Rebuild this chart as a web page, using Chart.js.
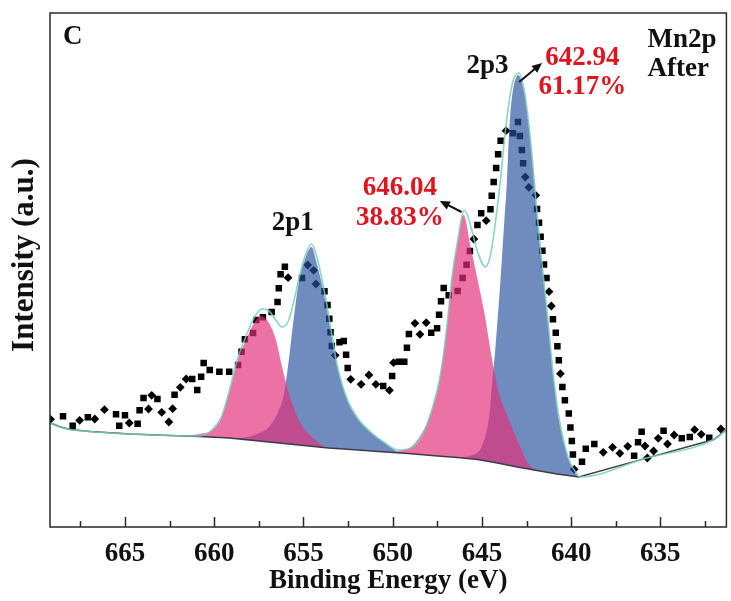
<!DOCTYPE html>
<html>
<head>
<meta charset="utf-8">
<script src="https://cdn.jsdelivr.net/npm/chart.js@4.4.1/dist/chart.umd.min.js"></script>
<style>
  html, body { margin: 0; padding: 0; background: #fff; }
  #wrap { width: 731px; height: 601px; }
</style>
</head>
<body>
<div id="wrap"><canvas id="xps" width="731" height="601"></canvas></div>
<script>
// Mn 2p XPS spectrum (sample "After"): binding energy in eV, intensity in arbitrary units
const xRange = [631.3, 669.2];
const yRange = [0, 514];
const majorTicks = [665, 660, 655, 650, 645, 640, 635];
const minorTicks = [667.5, 662.5, 657.5, 652.5, 647.5, 642.5, 637.5, 632.5];

// raw counts, plotted alternately as squares and diamonds
const rawSquares = [
  [668.47,110.7],[667.93,101.3],[667.08,109.7],[665.50,112.7],[665.32,101.3],[665.00,111.7],
  [664.29,103.3],[664.18,116.7],[663.96,129],[663.18,128],[662.22,132.3],[661.23,148],
  [660.95,137],[660.73,150.3],[660.59,164],[660.25,157],[659.71,155.3],[659.16,155.3],
  [658.66,162],[658.47,175.3],[658.28,187.7],[657.82,194],[657.64,207],[657.27,209.7],
  [656.78,215],[656.45,225],[656.38,238.7],[656.28,252.7],[656.04,260.3],[655.08,249],
  [653.82,235.7],[653.65,222],[653.55,208.3],[653.48,194.7],[653.41,181],[652.98,184.7],
  [652.74,186],[652.61,172.3],[652.52,159],[650.53,141],[650.03,151],[649.66,165.3],
  [649.35,165.3],[649.20,179.3],[649.09,193],[647.84,194.3],[647.51,198.7],[647.40,212.3],
  [647.29,225.7],[647.14,239],[646.86,231.7],[646.36,236],[646.08,249],[645.86,262.3],
  [645.67,276],[645.25,302],[645.04,313.7],[644.52,317.7],[644.45,331.3],[644.34,345],
  [644.20,359],[644.09,372.7],[643.95,386.3],[643.26,393.7],[642.98,405],[642.87,391],
  [642.76,377],[642.69,363.7],[641.91,318],[641.80,304.3],[641.71,290.3],[641.61,276.3],
  [641.52,262.5],[641.38,249],[641.02,207.7],[640.86,194.3],[640.77,180.7],[640.69,166.8],
  [640.49,140],[640.35,126.8],[640.13,113.5],[640.04,99.5],[639.96,86],[639.90,72.5],
  [639.39,65.3],[639.18,78.3],[638.70,83],[636.47,71.3],[636.25,84.7],[636.05,95.3],
  [634.82,96.3],[633.80,88.7],[633.35,90],[632.26,89.3]
];
const rawDiamonds = [
  [669.17,107.7],[667.54,106.7],[666.69,108],[666.15,117.3],[664.76,104],[663.68,118],
  [663.50,131.7],[662.94,114.7],[662.54,105],[662.33,118.3],[661.90,139.7],[661.57,148],
  [655.86,249.3],[654.76,262],[654.43,256.7],[654.30,243],[653.22,171.7],[652.35,147.7],
  [651.77,142.7],[651.33,152],[650.94,142.7],[650.18,136.7],[649.95,164.3],[648.75,203.7],
  [648.47,192.7],[648.12,204.3],[645.45,288],[644.76,306.3],[643.65,396.3],[642.57,350],
  [642.37,339.7],[641.98,331.7],[641.24,235.3],[641.11,221],[640.60,153.3],[639.83,57.7],
  [638.20,74.7],[637.68,79.7],[637.27,73.7],[636.83,80.7],[635.86,81],[635.73,69],
  [635.38,76],[635.12,88.7],[634.60,83],[634.23,92],[633.08,97.3],[632.71,92.7],[631.61,98]
];

// Shirley background under the fit
const background = [
  [669.17,104],[668.62,100],[668.06,97.5],[666.95,95.5],[664.72,93],[662.50,91.5],
  [660.83,90.5],[659.16,89],[658.04,87],[656.37,84],[655.26,82],[653.59,79],[651.92,77],
  [650.81,75.5],[649.14,73.5],[647.47,71],[646.36,69.5],[645.24,67.5],[644.13,64],
  [643.02,60],[641.91,56.5],[640.79,53],[639.96,51],[639.57,50],[635.78,68.8],
  [632.00,87.5],[631.28,97.5]
];

// fitted components (background included)
const peak2p1Sat = [
  [661.66,91],[660.83,93],[660.10,97],[659.60,109],[659.16,134],[658.71,165],[658.21,187],
  [657.77,204],[657.38,211],[656.93,204],[656.54,187],[656.21,161],[655.82,134],
  [655.26,107],[654.54,90],[653.76,80],[653.04,78]
];
const peak2p1 = [
  [659.16,89],[658.32,89.5],[657.60,93],[656.93,100],[656.37,117],[656.10,132],[655.82,167],
  [655.54,209],[655.26,245],[654.87,270],[654.54,280],[654.26,264],[653.98,244],[653.70,220],
  [653.48,197],[653.31,180],[653.15,164],[652.87,144],[652.48,124],[651.92,107],[651.20,94],
  [650.42,83.5],[649.70,74.5]
];
const peak646 = [
  [649.97,75],[649.42,77],[648.97,80],[648.42,92],[647.86,114],[647.38,147],[647.10,180],
  [646.88,214],[646.69,247],[646.40,280],[646.03,312],[645.63,280],[645.24,247],[644.86,214],
  [644.52,177],[644.13,140],[643.41,104],[642.85,80],[642.35,62],[641.63,55.5]
];
const peak643 = [
  [646.36,69.5],[645.52,72],[644.97,82],[644.58,112],[644.41,147],[644.24,180],[643.96,247],
  [643.74,307],[643.61,342],[643.46,400],[643.30,432],[642.96,452],[642.63,434],[642.41,407],
  [642.18,367],[641.96,322],[641.74,280],[641.35,214],[640.98,147],[640.68,107],[640.35,80],
  [640.07,64],[639.79,55],[639.51,50]
];
const envelope = [
  [669.17,104],[668.62,100],[668.06,97.5],[666.95,95.5],[664.72,93],[662.50,91.5],[660.83,91],
  [660.10,97.5],[659.60,110],[659.16,136],[658.71,167],[658.21,191],[657.77,209],[657.32,218],
  [656.93,216],[656.54,207],[656.21,200],[655.82,207],[655.48,230],[655.26,248],[654.87,273],
  [654.54,283],[654.26,271],[653.98,249],[653.70,224],[653.48,200],[653.31,182],[653.15,165],
  [652.87,145],[652.48,125],[651.92,108],[651.20,94.5],[650.42,84],[649.70,77],[649.14,78],
  [648.42,89],[647.86,114],[647.38,147],[647.10,180],[646.88,214],[646.69,248],[646.40,282],
  [645.97,317],[645.63,301],[645.24,275],[644.80,260],[644.52,272],[644.24,305],[643.96,347],
  [643.74,387],[643.46,427],[643.24,447],[642.92,454],[642.63,437],[642.41,409],[642.18,369],
  [641.96,324],[641.74,282],[641.35,216],[640.98,149],[640.68,109],[640.35,81],[640.07,65],
  [639.79,56],[639.51,50],[635.78,69],[632.00,87.5],[631.28,97.5]
];

// text on the plot: [text, energy, intensity, colour, align]
const labels = [
  ['C', 667.92, 489.5, '#111', 'center'],
  ['Mn2p', 635.72, 487, '#111', 'left'],
  ['After', 635.72, 457.5, '#111', 'left'],
  ['2p3', 644.69, 461, '#111', 'center'],
  ['642.94', 639.37, 469, '#e0141e', 'center'],
  ['61.17%', 639.37, 440, '#e0141e', 'center'],
  ['2p1', 655.60, 304, '#111', 'center'],
  ['646.04', 649.59, 339, '#e0141e', 'center'],
  ['38.83%', 649.59, 309, '#e0141e', 'center']
];
// arrows: from [energy, intensity] to [energy, intensity]
const arrows = [
  [642.91, 445, 641.63, 464],
  [646.14, 315, 647.36, 326]
];

const serif = 'Liberation Serif, Times New Roman, serif';
const pts = arr => arr.map(p => ({x: p[0], y: p[1]}));

const pink = 'rgba(227,45,121,0.68)';
const blue = 'rgba(38,81,157,0.66)';

function peakSet(data, color) {
  return {
    data: pts(data), showLine: true, pointRadius: 0, borderWidth: 0,
    borderColor: 'transparent', backgroundColor: color, fill: 1,
    cubicInterpolationMode: 'monotone'
  };
}

const frame = {
  id: 'frame',
  afterDraw(chart) {
    const {ctx, chartArea: a, scales: {x, y}} = chart;
    ctx.save();
    ctx.strokeStyle = '#2a2a2a';
    ctx.lineWidth = 1.5;
    ctx.strokeRect(a.left, a.top, a.right - a.left, a.bottom - a.top);

    ctx.beginPath();
    majorTicks.forEach(v => {
      const px = Math.round(x.getPixelForValue(v)) + 0.5;
      ctx.moveTo(px, a.bottom); ctx.lineTo(px, a.bottom - 10);
    });
    minorTicks.forEach(v => {
      const px = Math.round(x.getPixelForValue(v)) + 0.5;
      ctx.moveTo(px, a.bottom); ctx.lineTo(px, a.bottom - 6);
    });
    ctx.stroke();

    // y axis title
    ctx.save();
    ctx.translate(25, y.getPixelForValue(272));
    ctx.rotate(-Math.PI / 2);
    ctx.font = 'bold 31px ' + serif;
    ctx.fillStyle = '#111';
    ctx.textAlign = 'center';
    ctx.textBaseline = 'middle';
    ctx.fillText('Intensity (a.u.)', 0, 0);
    ctx.restore();

    ctx.font = 'bold 27px ' + serif;
    ctx.textBaseline = 'middle';
    labels.forEach(([t, e, i, c, al]) => {
      ctx.fillStyle = c;
      ctx.textAlign = al;
      ctx.fillText(t, x.getPixelForValue(e), y.getPixelForValue(i));
    });

    ctx.strokeStyle = '#111';
    ctx.fillStyle = '#111';
    ctx.lineWidth = 2;
    arrows.forEach(([e0, i0, e1, i1]) => {
      const x0 = x.getPixelForValue(e0), y0 = y.getPixelForValue(i0);
      const x1 = x.getPixelForValue(e1), y1 = y.getPixelForValue(i1);
      const ang = Math.atan2(y1 - y0, x1 - x0);
      ctx.beginPath();
      ctx.moveTo(x0, y0);
      ctx.lineTo(x1 - 6 * Math.cos(ang), y1 - 6 * Math.sin(ang));
      ctx.stroke();
      ctx.beginPath();
      ctx.moveTo(x1, y1);
      ctx.lineTo(x1 - 10 * Math.cos(ang) + 4.5 * Math.sin(ang), y1 - 10 * Math.sin(ang) - 4.5 * Math.cos(ang));
      ctx.lineTo(x1 - 10 * Math.cos(ang) - 4.5 * Math.sin(ang), y1 - 10 * Math.sin(ang) + 4.5 * Math.cos(ang));
      ctx.closePath();
      ctx.fill();
    });
    ctx.restore();
  }
};

new Chart(document.getElementById('xps'), {
  type: 'scatter',
  data: {
    datasets: [
      {
        data: pts(envelope), showLine: true, pointRadius: 0, borderWidth: 1.6,
        borderColor: 'rgba(120,205,185,0.85)', fill: false, cubicInterpolationMode: 'monotone'
      },
      {
        data: pts(background), showLine: true, pointRadius: 0, borderWidth: 1.4,
        borderColor: '#3c3c48', fill: false
      },
      peakSet(peak2p1Sat, pink),
      peakSet(peak646, pink),
      peakSet(peak2p1, blue),
      peakSet(peak643, blue),
      {
        data: pts(rawSquares), pointStyle: 'rect', pointRadius: 4.6, borderWidth: 0,
        backgroundColor: '#000', borderColor: '#000'
      },
      {
        data: pts(rawDiamonds), pointStyle: 'rectRot', pointRadius: 4.4, borderWidth: 0,
        backgroundColor: '#000', borderColor: '#000'
      }
    ]
  },
  options: {
    responsive: false,
    animation: false,
    layout: {padding: {left: 0, right: 1, top: 13, bottom: 0}},
    plugins: {legend: {display: false}, tooltip: {enabled: false}},
    scales: {
      x: {
        type: 'linear', reverse: true, min: xRange[0], max: xRange[1],
        afterBuildTicks: s => { s.ticks = majorTicks.map(v => ({value: v})); },
        afterFit: s => { s.height = 74; },
        grid: {display: false},
        border: {display: false},
        ticks: {font: {family: serif, size: 27, weight: 'bold'}, color: '#111', padding: 3, maxRotation: 0},
        title: {
          display: true, text: 'Binding Energy (eV)', color: '#111',
          font: {family: serif, size: 27, weight: 'bold'}, padding: {top: 0, bottom: 4}
        }
      },
      y: {
        min: yRange[0], max: yRange[1],
        afterFit: s => { s.width = 50; },
        ticks: {display: false},
        grid: {display: false},
        border: {display: false}
      }
    }
  },
  plugins: [frame]
});
</script>
</body>
</html>
